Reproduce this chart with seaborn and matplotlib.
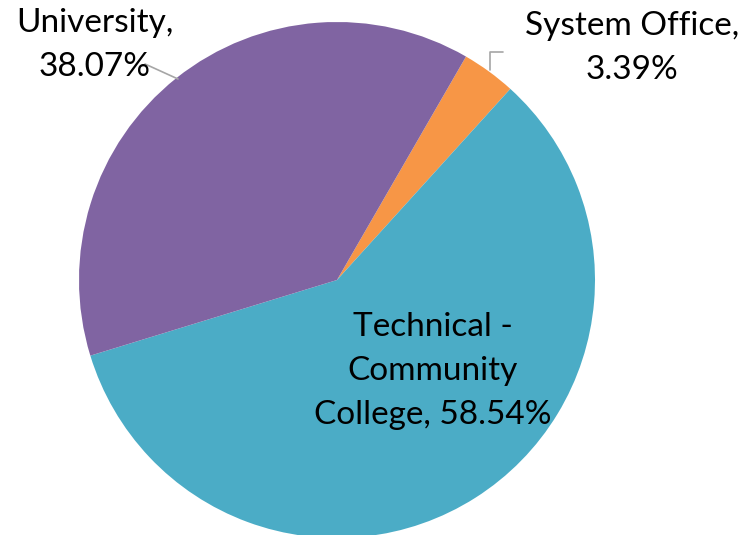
import matplotlib
matplotlib.use("Agg")
import matplotlib.pyplot as plt
import seaborn as sns

# Share of total by sector
categories = ["System Office", "Technical -\nCommunity\nCollege", "University"]
shares = [3.39, 58.54, 38.07]
colors = ["#F79646", "#4BACC6", "#8064A2"]

sns.set_theme(style="white")
plt.rcParams["font.family"] = ["Lato", "DejaVu Sans"]

W, H, DPI = 744, 535, 100
fig = plt.figure(figsize=(W / DPI, H / DPI), dpi=DPI)
ax = fig.add_axes([0, 0, 1, 1])

# pie centre and radius in pixels
cx, cy, R = 337, 280, 258

ax.pie(shares, colors=colors, startangle=60, counterclock=False,
       radius=1.0, center=(0, 0), wedgeprops=dict(linewidth=0))
ax.set_aspect("auto")
ax.set_xlim(-cx / R, (W - cx) / R)
ax.set_ylim(-(H - cy) / R, cy / R)
ax.axis("off")


def px(x, y):
    return (x - cx) / R, (cy - y) / R


fs = 24
ls = 1.6
# data labels: "<category>, <share>%"
positions = [(632, 48), (433, 371), (95, 45)]
for cat, val, (x, y) in zip(categories, shares, positions):
    name = cat.replace("System Office", "System Office,\n").replace("University", "University,\n")
    if name.endswith("\n"):
        txt = f"{name}{val:.2f}%"
    else:
        txt = f"{name}, {val:.2f}%"
    ax.text(*px(x, y), txt, ha="center", va="center", fontsize=fs,
            linespacing=ls, color="black")

# leader lines
lc = "#A6A6A6"
x1, y1 = px(145, 64)
x2, y2 = px(178, 79)
ax.plot([x1, x2], [y1, y2], color=lc, lw=1.2)
a = px(490, 70)
b = px(490, 52)
c = px(503, 52)
ax.plot([a[0], b[0], c[0]], [a[1], b[1], c[1]], color=lc, lw=1.2)

fig.savefig("out.png", dpi=DPI)
